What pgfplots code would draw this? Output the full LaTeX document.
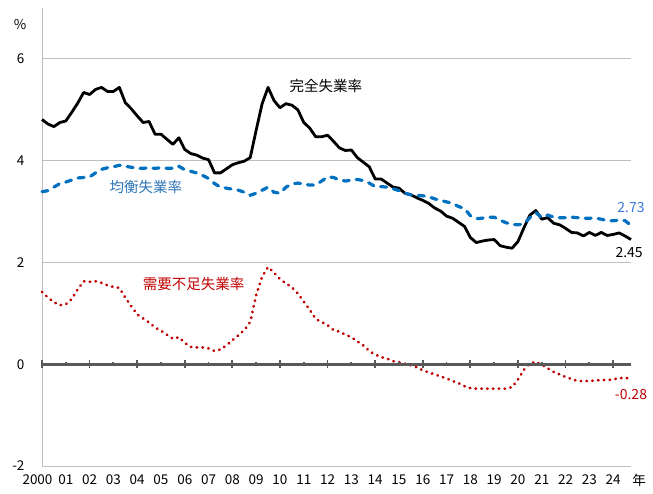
\documentclass[border=0pt]{standalone}
\usepackage{fontspec}
\setmainfont{Noto Sans CJK JP}
\usepackage{pgfplots}
\usepackage{pgfplotstable}
\pgfplotsset{compat=1.18}

\definecolor{jblue}{HTML}{0070C0}
\definecolor{jred}{HTML}{C00000}
\definecolor{gridgray}{HTML}{BFBFBF}
\definecolor{axisgray}{HTML}{595959}
\definecolor{txtblue}{HTML}{2E75B6}
\definecolor{valblue}{HTML}{3C78D8}

% quarterly: full = 完全失業率, eq = 均衡失業率, dem = 需要不足失業率
\pgfplotstableread{
x       full eq   dem
2000.00 4.81 3.39 1.42
2000.25 4.72 3.41 1.31
2000.50 4.67 3.48 1.22
2000.75 4.75 3.55 1.16
2001.00 4.78 3.58 1.18
2001.25 4.95 3.62 1.28
2001.50 5.13 3.66 1.47
2001.75 5.34 3.67 1.63
2002.00 5.30 3.68 1.62
2002.25 5.40 3.76 1.63
2002.50 5.44 3.83 1.60
2002.75 5.36 3.86 1.55
2003.00 5.36 3.88 1.52
2003.25 5.44 3.91 1.50
2003.50 5.14 3.89 1.31
2003.75 5.02 3.87 1.14
2004.00 4.88 3.85 0.98
2004.25 4.75 3.85 0.90
2004.50 4.77 3.86 0.82
2004.75 4.52 3.85 0.72
2005.00 4.52 3.86 0.66
2005.25 4.42 3.85 0.58
2005.50 4.32 3.85 0.50
2005.75 4.45 3.89 0.53
2006.00 4.22 3.82 0.42
2006.25 4.14 3.79 0.34
2006.50 4.11 3.76 0.33
2006.75 4.05 3.71 0.33
2007.00 4.02 3.65 0.31
2007.25 3.76 3.55 0.26
2007.50 3.76 3.48 0.29
2007.75 3.84 3.46 0.37
2008.00 3.92 3.44 0.47
2008.25 3.96 3.42 0.57
2008.50 3.99 3.38 0.67
2008.75 4.06 3.32 0.83
2009.00 4.60 3.36 1.36
2009.25 5.12 3.42 1.72
2009.50 5.44 3.48 1.91
2009.75 5.18 3.38 1.80
2010.00 5.04 3.36 1.67
2010.25 5.12 3.48 1.59
2010.50 5.09 3.54 1.51
2010.75 5.00 3.56 1.39
2011.00 4.75 3.54 1.23
2011.25 4.64 3.52 1.07
2011.50 4.47 3.52 0.89
2011.75 4.47 3.60 0.83
2012.00 4.50 3.68 0.77
2012.25 4.38 3.67 0.67
2012.50 4.25 3.62 0.64
2012.75 4.20 3.60 0.58
2013.00 4.21 3.62 0.53
2013.25 4.06 3.63 0.45
2013.50 3.97 3.61 0.37
2013.75 3.88 3.56 0.26
2014.00 3.64 3.49 0.19
2014.25 3.64 3.49 0.14
2014.50 3.56 3.48 0.11
2014.75 3.48 3.45 0.06
2015.00 3.46 3.41 0.04
2015.25 3.36 3.36 0.01
2015.50 3.33 3.33 -0.02
2015.75 3.27 3.32 -0.06
2016.00 3.22 3.31 -0.12
2016.25 3.16 3.29 -0.16
2016.50 3.07 3.25 -0.20
2016.75 3.01 3.22 -0.24
2017.00 2.91 3.19 -0.28
2017.25 2.87 3.16 -0.33
2017.50 2.79 3.10 -0.37
2017.75 2.71 3.06 -0.43
2018.00 2.49 2.92 -0.47
2018.25 2.39 2.86 -0.48
2018.50 2.42 2.87 -0.48
2018.75 2.44 2.89 -0.48
2019.00 2.45 2.89 -0.48
2019.25 2.33 2.83 -0.48
2019.50 2.30 2.78 -0.48
2019.75 2.28 2.75 -0.45
2020.00 2.41 2.74 -0.30
2020.25 2.68 2.76 -0.11
2020.50 2.93 2.88 0.01
2020.75 3.02 2.98 0.05
2021.00 2.85 2.88 -0.01
2021.25 2.88 2.93 -0.08
2021.50 2.77 2.89 -0.15
2021.75 2.74 2.88 -0.20
2022.00 2.67 2.88 -0.25
2022.25 2.59 2.89 -0.29
2022.50 2.58 2.88 -0.33
2022.75 2.52 2.87 -0.33
2023.00 2.59 2.87 -0.33
2023.25 2.53 2.87 -0.32
2023.50 2.59 2.85 -0.31
2023.75 2.53 2.82 -0.31
2024.00 2.55 2.82 -0.30
2024.25 2.58 2.83 -0.27
2024.50 2.52 2.82 -0.27
2024.75 2.45 2.73 -0.28
}\ratetable

\begin{document}
\begin{tikzpicture}
\pgfplotsset{
  frame/.style={
    scale only axis, width=589pt, height=458pt,
    xmin=2000, xmax=2024.75, ymin=-2, ymax=7,
    clip=false,
  }
}
\begin{axis}[
  frame,
  axis x line*=bottom, axis y line*=left,
  axis line style={draw=gridgray, line width=0.8pt},
  major tick length=0pt,
  xtick={2000,2001,...,2024},
  xticklabels={\kern-9pt 2000,01,02,03,04,05,06,07,08,09,10,11,12,13,14,15,16,17,18,19,20,21,22,23,24},
  xticklabel style={font=\fontsize{13.5}{15}\selectfont, yshift=-5pt},
  ytick={-2,0,2,4,6},
  yticklabels={-2,0,2,4,6},
  yticklabel style={font=\fontsize{13.5}{15}\selectfont, xshift=-14pt},
  ymajorgrids,
  grid style={draw=gridgray, line width=0.8pt},
]
\addplot[black, line width=2.8pt, line join=round] table[x=x, y=full] {\ratetable};
\addplot[jblue, line width=3.2pt, line cap=round, dash pattern=on 6pt off 7pt] table[x=x, y=eq] {\ratetable};
\addplot[jred, line width=2.8pt, line cap=round, dash pattern=on 0.4pt off 5.4pt] table[x=x, y=dem] {\ratetable};

\node[font=\fontsize{14.5}{16}\selectfont] at (axis cs:2011.93,5.46) {完全失業率};
\node[font=\fontsize{14.5}{16}\selectfont, text=txtblue] at (axis cs:2004.37,3.49) {均衡失業率};
\node[font=\fontsize{14.5}{16}\selectfont, text=jred] at (axis cs:2006.37,1.57) {需要不足失業率};
\node[font=\fontsize{14}{16}\selectfont, text=valblue] at (axis cs:2024.75,3.08) {2.73};
\node[font=\fontsize{14}{16}\selectfont] at (axis cs:2024.67,2.20) {2.45};
\node[font=\fontsize{14}{16}\selectfont, text=jred] at (axis cs:2024.75,-0.59) {-0.28};
\node[font=\fontsize{13.5}{15}\selectfont] at (rel axis cs:0,1) [xshift=-22pt, yshift=-17pt] {\%};
\node[font=\fontsize{13.5}{15}\selectfont] at (rel axis cs:1,0) [xshift=8pt, yshift=-14pt] {年};
\end{axis}
\begin{axis}[
  frame,
  axis x line=middle, axis y line=none,
  x axis line style={draw=axisgray, line width=2.6pt, -},
  xtick={2000,2002,...,2024},
  minor xtick={2001,2003,...,2023},
  xticklabels={},
  ytick=\empty,
  tick align=center,
  major tick length=7.5pt, minor tick length=4pt,
  tick style={draw=axisgray, line width=1.8pt},
  hide obscured x ticks=false,
]
\end{axis}
\pgfresetboundingbox
\useasboundingbox (-42pt,-27pt) rectangle (611pt,466pt);
\end{tikzpicture}
\end{document}
